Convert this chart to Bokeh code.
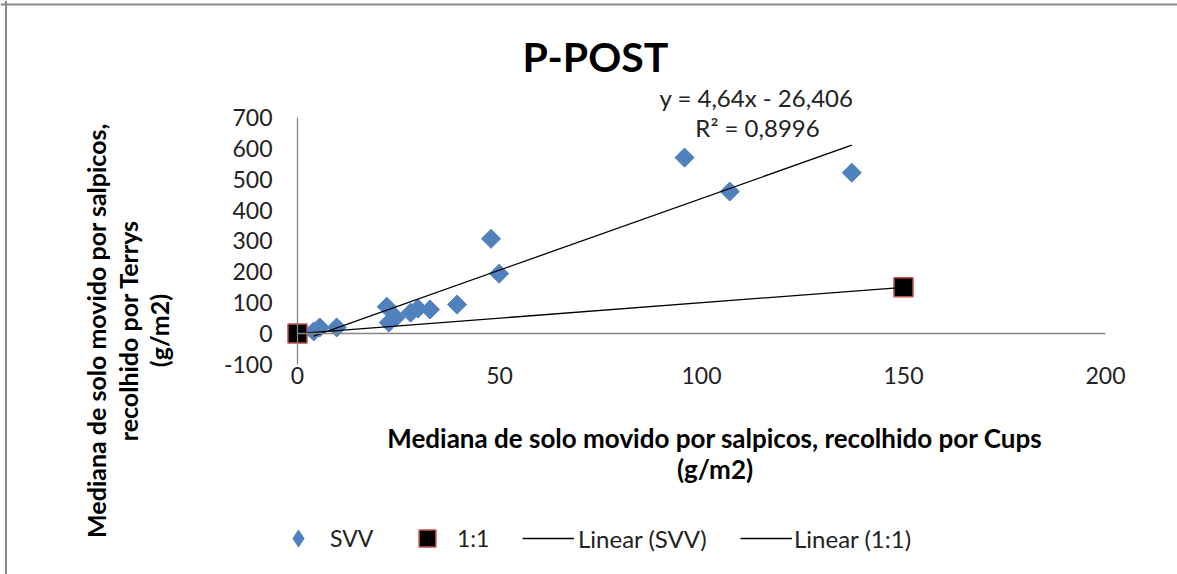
import numpy as np
from bokeh.plotting import figure
from bokeh.models import Range1d, LinearAxis, Label, Legend, LegendItem, FixedTicker, Span
from bokeh.embed import file_html
from bokeh.resources import INLINE

# Median splash-moved soil (g/m2): Cups (x) against Terrys (y)
svv_x = [4.0, 5.5, 9.7, 22.1, 22.6, 24.3, 28.0, 29.8, 32.8, 39.5, 47.9, 49.9, 95.8, 107.0, 137.2]
svv_y = [7, 20, 20, 87, 36, 52, 68, 81, 78, 94, 307, 194, 570, 460, 521]

# 1:1 reference series
ref_x = [0, 150]
ref_y = [0, 150]

# Linear fit reported for SVV
svv_slope = 4.64
svv_intercept = -26.406
svv_r2 = 0.8996

x_ticks = [0, 50, 100, 150, 200]
x_tick_labels = ["0", "50", "100", "150", "200"]
y_ticks = [-100, 0, 100, 200, 300, 400, 500, 600, 700]
y_tick_labels = ["-100", "0", "100", "200", "300", "400", "500", "600", "700"]

title_text = "P-POST"
x_title = ["Mediana de solo movido por salpicos, recolhido por Cups", "(g/m2)"]
y_title = ["Mediana de solo movido por salpicos,", "recolhido por Terrys", "(g/m2)"]

FONT = "Lato"
TEXT = "#222222"
AXIS = "#868686"
BLUE = "#4F81BD"
RED = "#C0504D"

# canvas geometry: the plot area spans the whole canvas, axes sit at fixed locations
W, H = 1177, 574
PX_X = 4.04            # pixels per x unit
PX_Y = 0.30875         # pixels per y unit
X0_PX, Y0_PX = 297, 333.1   # canvas position of the origin


def dx(px):
    return (px - X0_PX) / PX_X


def dy(py):
    return (Y0_PX - py) / PX_Y


p = figure(width=W, height=H, output_backend="svg", toolbar_location=None,
           x_range=Range1d(dx(0), dx(W)), y_range=Range1d(dy(H), dy(0)),
           min_border_left=0, min_border_right=0, min_border_top=0, min_border_bottom=0,
           x_axis_location=None, y_axis_location=None)
for g in p.grid:
    g.visible = False
p.outline_line_color = None
p.background_fill_color = "white"
p.border_fill_color = "white"

# chart-area border: top and left edges
p.add_layout(Span(location=dy(4), dimension="width", line_color="#8a8a8a", line_width=2))
p.add_layout(Span(location=dx(5.5), dimension="height", line_color="#8a8a8a", line_width=2))

# vertical axis crossing at x = 0
yax = LinearAxis(fixed_location=0, bounds=(y_ticks[0], y_ticks[-1]),
                 ticker=FixedTicker(ticks=y_ticks),
                 major_label_overrides={t: s for t, s in zip(y_ticks, y_tick_labels)},
                 axis_line_color=AXIS, axis_line_width=1.3,
                 major_tick_line_color=None, minor_tick_line_color=None,
                 major_tick_out=0, major_tick_in=0, minor_tick_out=0,
                 major_label_standoff=25, major_label_text_font=FONT,
                 major_label_text_font_size="23px", major_label_text_color=TEXT)
p.add_layout(yax, "left")

# horizontal tick labels, placed below the lowest y value
xax = LinearAxis(fixed_location=y_ticks[0], ticker=FixedTicker(ticks=x_ticks),
                 major_label_overrides={t: s for t, s in zip(x_ticks, x_tick_labels)},
                 axis_line_color=None, major_tick_line_color=None, minor_tick_line_color=None,
                 major_tick_out=0, major_tick_in=0, minor_tick_out=0,
                 major_label_standoff=3, major_label_text_font=FONT,
                 major_label_text_font_size="23px", major_label_text_color=TEXT)
p.add_layout(xax, "below")

# horizontal axis line crossing at y = 0
x0ax = LinearAxis(fixed_location=0, bounds=(x_ticks[0], x_ticks[-1]), ticker=FixedTicker(ticks=[]),
                  axis_line_color=AXIS, axis_line_width=1.3,
                  major_tick_line_color=None, minor_tick_line_color=None,
                  major_tick_out=0, minor_tick_out=0,
                  major_label_text_font_size="0px")
p.add_layout(x0ax, "below")

# series markers
svv_r = p.scatter(svv_x, svv_y, marker="square", size=13.5, angle=np.pi / 4,
                  fill_color=BLUE, line_color=BLUE)
ref_r = p.scatter(ref_x, ref_y, marker="square", size=19,
                  fill_color="black", line_color=RED, line_width=1.5)
# legend swatch for SVV (diamond shape)
svv_key = p.scatter(svv_x, svv_y, marker="diamond", size=17,
                    fill_color=BLUE, line_color=BLUE, visible=False)

# trend lines
sx = np.array([min(svv_x), max(svv_x)])
svv_fit = p.line(sx, svv_slope * sx + svv_intercept, line_color="black", line_width=1.3)
ref_slope, ref_intercept = np.polyfit(ref_x, ref_y, 1)
rx = np.array([min(ref_x), max(ref_x)])
ref_fit = p.line(rx, ref_slope * rx + ref_intercept, line_color="black", line_width=1.3)


# legend entries, one box each, positioned from the canvas bottom-left
def add_legend_entry(renderer, label, vx, standoff, glyph_w, font_size):
    lg = Legend(items=[LegendItem(label=label, renderers=[renderer])],
                location=(vx, H - 559), orientation="horizontal",
                glyph_width=glyph_w, glyph_height=42, label_standoff=standoff,
                padding=0, margin=0, spacing=0, border_line_color=None,
                background_fill_alpha=0, label_text_font=FONT,
                label_text_font_size=font_size, label_text_color=TEXT)
    p.add_layout(lg, "center")


add_legend_entry(svv_key, "SVV", 277, 11, 42, "23px")
add_legend_entry(ref_r, "1:1", 406, 9, 42, "23px")
add_legend_entry(svv_fit, "Linear (SVV)", 522, 4, 52, "24px")
add_legend_entry(ref_fit, "Linear (1:1)", 740, 2, 52, "24px")

# chart title
p.add_layout(Label(x=dx(595), y=dy(56), text=title_text, text_align="center", text_baseline="middle",
                   text_font=FONT, text_font_style="bold", text_font_size="41px",
                   text_color="black"))

# fit equation and R²
eq = f"y = {svv_slope:.2f}x - {abs(svv_intercept):.3f}".replace(".", ",")
r2 = f"R² = {svv_r2:.4f}".replace(".", ",")
p.add_layout(Label(x=dx(756), y=dy(97), text=eq, text_align="center", text_baseline="middle",
                   text_font=FONT, text_font_size="24px", text_color=TEXT))
p.add_layout(Label(x=dx(757), y=dy(127), text=r2, text_align="center", text_baseline="middle",
                   text_font=FONT, text_font_size="24px", text_color=TEXT))

# axis titles
for line, py in zip(x_title, [437, 468]):
    p.add_layout(Label(x=dx(714.5), y=dy(py), text=line, text_align="center", text_baseline="middle",
                       text_font=FONT, text_font_style="bold", text_font_size="26px",
                       text_color="black"))
for line, px in zip(y_title, [95, 127, 158]):
    p.add_layout(Label(x=dx(px), y=dy(330), text=line, angle=np.pi / 2, text_align="center",
                       text_baseline="middle", text_font=FONT, text_font_style="bold",
                       text_font_size="25px", text_color="black"))

open("out.html", "w").write(file_html(p, INLINE))
